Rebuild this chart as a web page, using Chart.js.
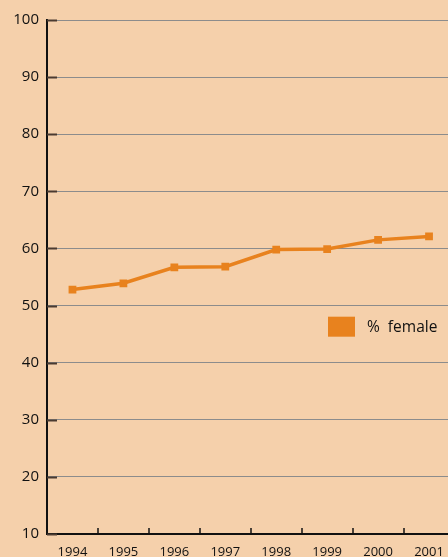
<!DOCTYPE html>
<html>
<head>
<meta charset="utf-8">
<script src="https://cdn.jsdelivr.net/npm/chart.js@4"></script>
<style>
  html, body { margin: 0; padding: 0; overflow: hidden; background: #f5d0ab; }
  canvas { display: block; }
</style>
</head>
<body>
<canvas id="myChart" width="460" height="557" style="width:460px;height:557px"></canvas>
<script>
const years = ['1994', '1995', '1996', '1997', '1998', '1999', '2000', '2001']
const pctFemale = [52.8, 53.9, 56.7, 56.8, 59.8, 59.9, 61.5, 62.1]
const yMin = 10
const yMax = 100
const yStep = 10
const seriesLabel = '%  female'
const lineColor = '#e8821e'

// small tick marks drawn inside the plot + legend box in the middle right
const extras = {
  id: 'extras',
  afterDraw(chart) {
    const { ctx, chartArea, scales } = chart
    const x = scales.x, y = scales.y
    ctx.save()
    ctx.strokeStyle = '#4a3a30'
    ctx.lineWidth = 2
    y.ticks.forEach(t => {
      const py = Math.round(y.getPixelForValue(t.value)) + 0.5
      ctx.beginPath()
      ctx.moveTo(chartArea.left, py)
      ctx.lineTo(chartArea.left + 10, py)
      ctx.stroke()
    })
    ctx.strokeStyle = '#111'
    ctx.lineWidth = 1.5
    for (let i = 0; i < years.length - 1; i++) {
      const px = Math.round((x.getPixelForValue(i) + x.getPixelForValue(i + 1)) / 2)
      ctx.beginPath()
      ctx.moveTo(px, chartArea.bottom)
      ctx.lineTo(px, chartArea.bottom - 6)
      ctx.stroke()
    }
    // legend
    const ly = y.getPixelForValue(46.3)
    ctx.fillStyle = lineColor
    ctx.fillRect(328, ly - 10, 27, 20)
    ctx.fillStyle = '#111'
    ctx.font = '15.5px "Open Sans"'
    ctx.textBaseline = 'middle'
    ctx.textAlign = 'left'
    ctx.fillText(chart.data.datasets[0].label, 367, ly + 1)
    ctx.restore()
  }
}

const ctx = document.getElementById('myChart')
const chart = new Chart(ctx, {
  type: 'line',
  data: {
    labels: years,
    datasets: [{
      label: seriesLabel,
      data: pctFemale,
      borderColor: lineColor,
      backgroundColor: lineColor,
      borderWidth: 3.5,
      pointStyle: 'rect',
      pointRadius: 5.5,
      pointBorderWidth: 0,
      tension: 0
    }]
  },
  options: {
    responsive: false,
    animation: false,
    layout: { padding: { top: 20, right: 5, left: 0, bottom: 0 } },
    plugins: {
      legend: { display: false },
      tooltip: { enabled: false }
    },
    scales: {
      x: {
        type: 'category',
        offset: true,
        grid: { display: false, drawTicks: false },
        border: { display: true, color: '#111', width: 2 },
        ticks: {
          color: '#111',
          font: { family: 'Open Sans', size: 13 },
          padding: 10,
          maxRotation: 0,
          autoSkip: false
        },
        afterFit(scale) { scale.height = 23 }
      },
      y: {
        min: yMin,
        max: yMax,
        ticks: {
          stepSize: yStep,
          color: '#111',
          font: { family: 'Open Sans', size: 15 },
          padding: 8
        },
        grid: { color: '#8c8c8c', lineWidth: 1, drawTicks: false },
        border: { display: true, color: '#111', width: 2 },
        afterFit(scale) { scale.width = 47 }
      }
    }
  },
  plugins: [extras]
})
</script>
</body>
</html>
